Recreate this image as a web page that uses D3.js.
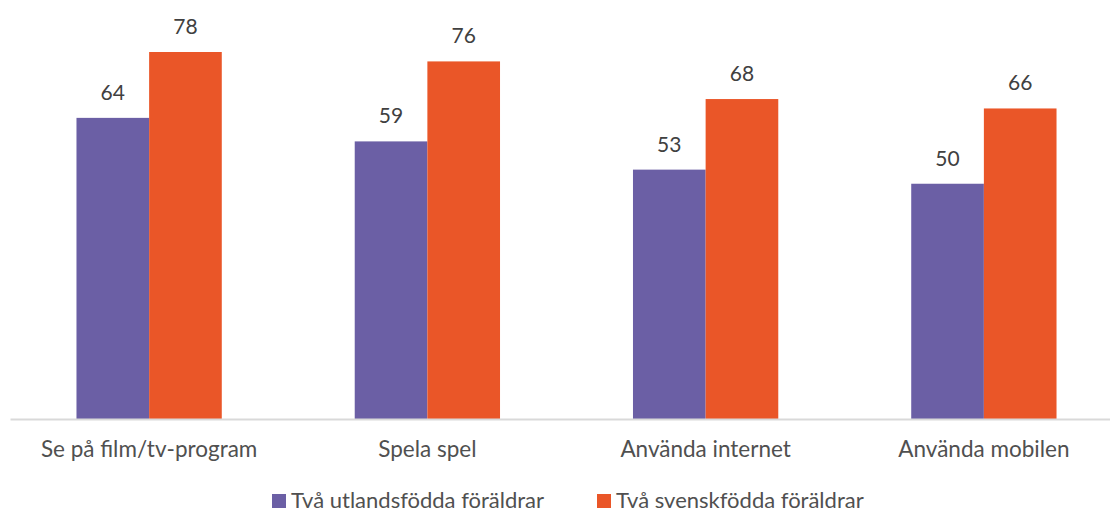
<!DOCTYPE html>
<html><head><meta charset="utf-8">
<script src="https://cdn.jsdelivr.net/npm/d3@7"></script>
<style>body{margin:0;background:#fff}svg{display:block}</style>
</head><body>
<svg id="c" width="1110" height="514"></svg>
<script>
const categories = ["Se på film/tv-program", "Spela spel", "Använda internet", "Använda mobilen"];
const seriesNames = ["Två utlandsfödda föräldrar", "Två svenskfödda föräldrar"];
const utlandsfodda = [64, 59, 53, 50];
const svenskfodda = [78, 76, 68, 66];
const colors = ["#6B5FA5", "#EA5628"];

const data = categories.map((c, i) => ({cat: c, vals: [utlandsfodda[i], svenskfodda[i]]}));
const svg = d3.select("#c");
const font = "Lato, 'Open Sans', sans-serif";
const textColor = "#505050";

const x0 = d3.scaleBand().domain(categories).range([10, 1123]).padding(0);
const groupW = 145.3;
const x1 = d3.scaleBand().domain(seriesNames).range([0, groupW]).padding(0);
const y = d3.scaleLinear().domain([0, 78]).range([419, 52]);

const g = svg.selectAll("g.grp").data(data).enter().append("g")
  .attr("transform", d => `translate(${x0(d.cat) + x0.bandwidth()/2 - groupW/2},0)`);

g.selectAll("rect").data(d => d.vals.map((v, j) => ({v, s: seriesNames[j], j})))
  .enter().append("rect")
  .attr("x", d => x1(d.s)).attr("width", x1.bandwidth())
  .attr("y", d => y(d.v)).attr("height", d => y(0) - y(d.v))
  .attr("fill", d => colors[d.j]);

g.selectAll("text.val").data(d => d.vals.map((v, j) => ({v, s: seriesNames[j]})))
  .enter().append("text").attr("class", "val")
  .attr("x", d => x1(d.s) + x1.bandwidth()/2).attr("y", d => y(d.v) - 18)
  .attr("text-anchor", "middle").attr("font-family", font).attr("font-size", 21)
  .attr("fill", "#404040").text(d => d.v);

// axis
const axis = d3.axisBottom(x0).tickSize(0).tickPadding(22);
const ax = svg.append("g").attr("transform", `translate(0,${y(0)})`).call(axis);
ax.select(".domain").attr("stroke", "#D9D9D9").attr("stroke-width", 2);
ax.selectAll("text").attr("font-family", font).attr("font-size", 22.5).attr("fill", textColor);

// legend
const legendX = [272, 597];
const lg = svg.selectAll("g.leg").data(seriesNames).enter().append("g")
  .attr("transform", (d, i) => `translate(${legendX[i]},500)`);
lg.append("rect").attr("x", 0).attr("y", -6).attr("width", 14).attr("height", 14)
  .attr("fill", (d, i) => colors[i]);
lg.append("text").attr("x", 19).attr("y", 0).attr("dy", "0.35em")
  .attr("font-family", font).attr("font-size", 22).attr("fill", textColor).text(d => d);
</script>
</body></html>
